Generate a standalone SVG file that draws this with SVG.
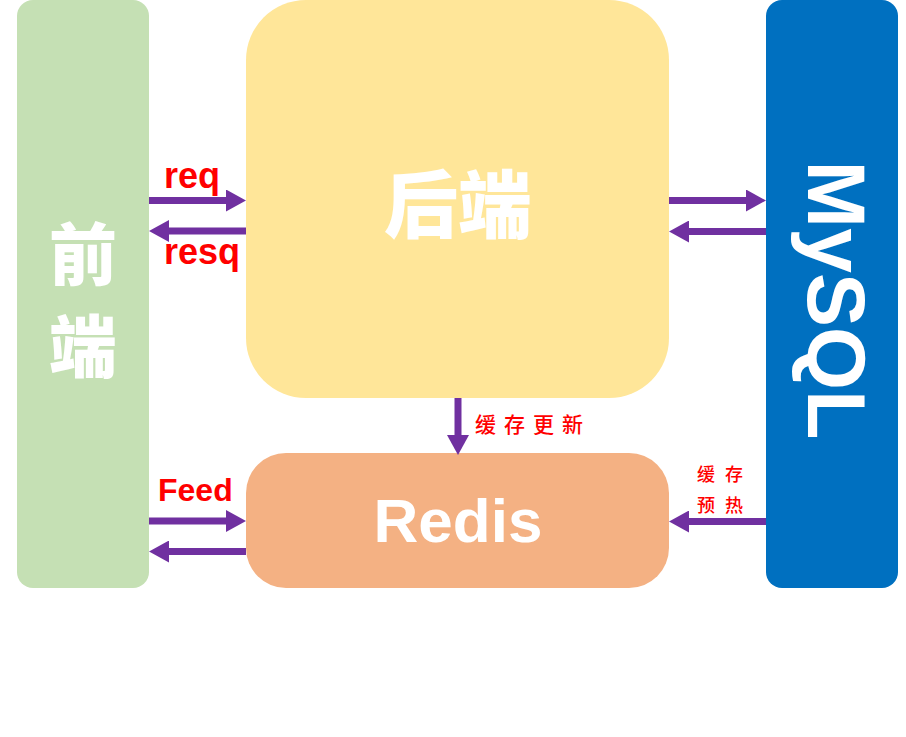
<svg xmlns="http://www.w3.org/2000/svg" width="906" height="737" viewBox="0 0 906 737">
<style>
.lbl{font-family:"Liberation Sans",Arial,sans-serif;font-weight:bold;fill:#FF0000}
.cn{font-family:"Noto Sans CJK SC",sans-serif;fill:#FF0000;font-weight:500}
.big{font-family:"Noto Sans CJK SC",sans-serif;font-weight:900;fill:#FFFFFF}
.en{font-family:"Liberation Sans",Arial,sans-serif;font-weight:bold;fill:#FFFFFF}
.conn line{stroke:#7030A0;stroke-width:7}
</style>
<defs>
<marker id="ah" markerUnits="userSpaceOnUse" markerWidth="20" markerHeight="22" refX="0" refY="11" orient="auto" viewBox="0 0 20 22">
<path d="M0,0 L20,11 L0,22 z" fill="#7030A0"/>
</marker>
</defs>
<rect width="906" height="737" fill="#FFFFFF"/>
<g id="frontend">
<rect x="17" y="0" width="132" height="588" rx="16" fill="#C5E0B4"/>
<text class="big" font-size="68" text-anchor="middle"><tspan x="83" y="280">前</tspan><tspan x="83" y="372">端</tspan></text>
</g>
<g id="backend">
<rect x="246" y="0" width="423" height="398" rx="60" fill="#FFE699"/>
<text class="big" x="458" y="232" font-size="74" text-anchor="middle">后端</text>
</g>
<g id="mysql">
<rect x="766" y="0" width="132" height="588" rx="16" fill="#0070C0"/>
<text class="en" transform="translate(808,300) rotate(90)" font-size="81" text-anchor="middle">MySQL</text>
</g>
<g id="redis">
<rect x="246" y="453" width="423" height="135" rx="40" fill="#F4B183"/>
<text class="en" x="458" y="542" font-size="62" text-anchor="middle">Redis</text>
</g>
<g class="conn" id="connectors">
<line x1="149" y1="200.5" x2="226" y2="200.5" marker-end="url(#ah)"/>
<line x1="246" y1="231" x2="169" y2="231" marker-end="url(#ah)"/>
<line x1="669" y1="200.5" x2="746" y2="200.5" marker-end="url(#ah)"/>
<line x1="766" y1="231.5" x2="689" y2="231.5" marker-end="url(#ah)"/>
<line x1="458" y1="398" x2="458" y2="435" marker-end="url(#ah)"/>
<line x1="149" y1="521" x2="226" y2="521" marker-end="url(#ah)"/>
<line x1="246" y1="551.5" x2="169" y2="551.5" marker-end="url(#ah)"/>
<line x1="766" y1="521.5" x2="689" y2="521.5" marker-end="url(#ah)"/>
</g>
<g id="labels">
<text class="lbl" x="164" y="188" font-size="36">req</text>
<text class="lbl" x="164" y="264" font-size="36">resq</text>
<text class="lbl" x="158" y="501" font-size="32">Feed</text>
<text class="cn" x="475" y="432" font-size="21" letter-spacing="8">缓存更新</text>
<text class="cn" x="697" y="481" font-size="18" letter-spacing="10">缓存</text>
<text class="cn" x="697" y="512" font-size="18" letter-spacing="10">预热</text>
</g>
</svg>
